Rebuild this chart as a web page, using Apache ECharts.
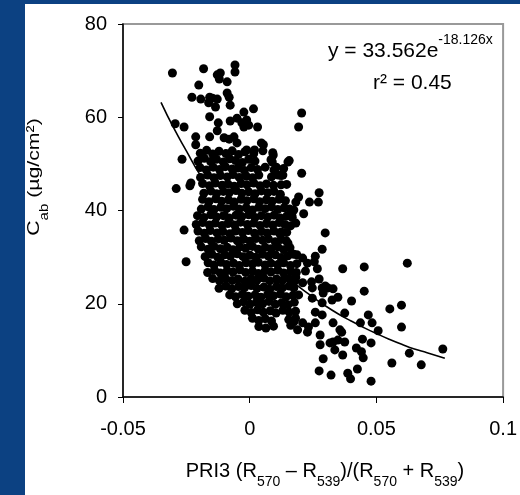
<!DOCTYPE html>
<html><head><meta charset="utf-8">
<script src="https://cdn.jsdelivr.net/npm/echarts@6/dist/echarts.min.js"></script>
<style>
html,body{margin:0;padding:0;background:#0c4182;width:520px;height:495px;overflow:hidden}
#panel{position:absolute;left:25px;top:4px;width:495px;height:491px;background:#fff}
#chart{position:absolute;left:0;top:0;width:520px;height:495px}
</style></head><body><div id="panel"></div><div id="chart"></div>
<script>
// x ticks and y ticks
const xTicks = [-0.05, 0, 0.05, 0.1];
const yTicks = [0, 20, 40, 60, 80];

// sparse points in the upper part (PRI3, Cab)
const upperPoints = [
[-0.0305,69.5],[-0.0182,70.4],[-0.0058,71.2],[-0.0058,69.7],[-0.0128,69.1],[-0.0116,69.5],[-0.0120,68.2],[-0.0089,67.6],
[-0.0201,66.9],[-0.0228,64.3],[-0.0193,63.9],[-0.0158,64.3],[-0.0147,64.1],[-0.0162,63.1],[-0.0128,63.9],[-0.0135,62.2],
[-0.0089,65.2],[-0.0081,64.3],[-0.0077,62.6],[-0.0023,61.1],[0.0015,61.8],[-0.0158,60.1],[-0.0124,58.8],[-0.0077,59.2],
[-0.0050,59.8],[-0.0031,58.8],[-0.0012,59.4],[-0.0004,58.3],[-0.0023,57.9],[0.0031,57.9],[-0.0294,58.6],[-0.0259,57.9],
[-0.0128,57.1],[-0.0213,55.8],[-0.0213,54.1],[-0.0158,55.8],[-0.0101,55.6],[-0.0081,55.3],[-0.0062,55.8],[-0.0050,54.5],
[0.0046,54.5],[0.0054,54.1],[0.0205,60.9],[0.0193,57.9],[-0.0267,51.0],[-0.0290,44.7],[-0.0232,45.9],[-0.0236,45.3],
[-0.0259,35.8],[-0.0251,29.0],[-0.0012,53.0],[0.0019,53.0],[0.0093,51.9],[0.0089,50.4],[0.0151,50.4],[0.0105,49.3],[0.0112,47.6]
];

// dense central cloud
const corePoints = [
[-0.0195,52.3],[-0.0170,52.9],[-0.0146,52.1],[-0.0121,52.7],[-0.0094,52.2],[-0.0069,52.8],[-0.0044,52.0],[-0.0019,52.6],[0.0016,52.2],[0.0052,52.8],[0.0091,52.4],
[-0.0204,50.6],[-0.0179,51.2],[-0.0154,50.5],[-0.0131,51.0],[-0.0104,50.4],[-0.0079,51.1],[-0.0056,50.7],[-0.0029,50.3],[-0.0004,51.0],[0.0021,50.6],[0.0084,50.9],[0.0156,50.7],
[-0.0196,49.2],[-0.0171,48.7],[-0.0144,49.3],[-0.0119,48.8],[-0.0096,49.4],[-0.0069,48.9],[-0.0046,49.1],[-0.0021,48.6],[0.0006,49.2],[0.0031,48.8],[0.0061,49.3],[0.0096,48.7],[0.0134,49.0],
[-0.0194,47.1],[-0.0166,47.6],[-0.0141,47.0],[-0.0116,47.5],[-0.0089,47.2],[-0.0066,47.7],[-0.0041,47.1],[-0.0014,47.4],[0.0011,47.0],[0.0036,47.6],[0.0086,47.2],[0.0124,47.5],
[-0.0186,45.8],[-0.0159,45.3],[-0.0136,45.9],[-0.0109,45.4],[-0.0086,45.7],[-0.0061,45.2],[-0.0034,45.8],[-0.0011,45.5],[0.0016,45.9],[0.0041,45.3],[0.0066,45.7],[0.0094,45.4],[0.0146,45.6],
[-0.0181,43.7],[-0.0154,44.2],[-0.0131,43.6],[-0.0104,44.1],[-0.0081,43.8],[-0.0054,44.3],[-0.0031,43.7],[-0.0004,44.0],[0.0021,43.6],[0.0046,44.2],[0.0071,43.8],[0.0096,44.1],[0.0121,43.5],
[-0.0186,42.4],[-0.0161,41.9],[-0.0134,42.5],[-0.0111,42.0],[-0.0084,42.3],[-0.0061,41.8],[-0.0034,42.4],[-0.0011,42.1],[0.0016,42.5],[0.0039,41.9],[0.0066,42.3],[0.0089,42.0],[0.0116,42.4],[0.0141,42.1],
[-0.0191,40.3],[-0.0164,40.8],[-0.0141,40.2],[-0.0114,40.7],[-0.0091,40.4],[-0.0064,40.9],[-0.0041,40.3],[-0.0014,40.6],[0.0011,40.1],[0.0036,40.7],[0.0061,40.4],[0.0086,40.8],[0.0111,40.2],[0.0136,40.6],[0.0158,40.3],
[-0.0206,38.9],[-0.0181,38.5],[-0.0154,39.1],[-0.0131,38.6],[-0.0104,38.9],[-0.0081,38.4],[-0.0054,39.0],[-0.0031,38.7],[-0.0004,39.1],[0.0021,38.5],[0.0046,38.9],[0.0071,38.6],[0.0096,39.0],[0.0121,38.4],[0.0146,38.8],[0.0168,38.5],
[-0.0211,37.0],[-0.0186,37.4],[-0.0159,36.9],[-0.0136,37.3],[-0.0109,36.8],[-0.0086,37.2],[-0.0059,36.9],[-0.0036,37.5],[-0.0009,37.0],[0.0016,37.3],[0.0041,36.8],[0.0066,37.2],[0.0091,36.9],[0.0116,37.4],[0.0139,37.0],[0.0161,36.7],
[-0.0204,35.6],[-0.0179,35.1],[-0.0156,35.7],[-0.0129,35.2],[-0.0106,35.5],[-0.0079,35.0],[-0.0056,35.6],[-0.0029,35.3],[-0.0006,35.7],[0.0019,35.1],[0.0046,35.5],[0.0069,35.2],[0.0096,35.6],[0.0119,35.0],[0.0146,35.3],
[-0.0199,33.5],[-0.0174,34.0],[-0.0151,33.4],[-0.0124,33.9],[-0.0101,33.6],[-0.0074,34.1],[-0.0049,33.5],[-0.0026,33.8],[0.0001,33.4],[0.0024,34.0],[0.0051,33.6],[0.0074,33.9],[0.0101,33.3],[0.0124,33.8],[0.0144,33.5],
[-0.0191,32.2],[-0.0164,31.7],[-0.0141,32.3],[-0.0116,31.8],[-0.0089,32.1],[-0.0066,31.6],[-0.0039,32.2],[-0.0016,31.9],[0.0011,32.3],[0.0034,31.7],[0.0061,32.1],[0.0084,31.8],[0.0111,32.2],[0.0134,31.6],[0.0159,32.0],
[-0.0176,30.1],[-0.0149,30.6],[-0.0126,30.0],[-0.0099,30.5],[-0.0076,30.2],[-0.0049,30.7],[-0.0026,30.1],[0.0001,30.4],[0.0024,30.0],[0.0051,30.6],[0.0074,30.2],[0.0101,30.5],[0.0124,29.9],[0.0151,30.3],[0.0174,30.6],
[-0.0164,28.8],[-0.0141,28.3],[-0.0114,28.9],[-0.0091,28.4],[-0.0064,28.7],[-0.0041,28.2],[-0.0014,28.8],[0.0011,28.5],[0.0034,28.9],[0.0061,28.3],[0.0084,28.7],[0.0111,28.4],[0.0134,28.8],[0.0161,28.2],[0.0186,28.6],
[-0.0166,26.7],[-0.0139,27.2],[-0.0116,26.6],[-0.0089,27.1],[-0.0066,26.8],[-0.0039,27.3],[-0.0016,26.7],[0.0011,27.0],[0.0034,26.5],[0.0061,27.1],[0.0084,26.8],[0.0111,27.2],[0.0134,26.6],[0.0161,27.0],[0.0184,26.7],
[-0.0146,25.4],[-0.0119,24.9],[-0.0096,25.5],[-0.0069,25.0],[-0.0046,25.3],[-0.0019,24.8],[0.0006,25.4],[0.0029,25.1],[0.0056,25.5],[0.0079,24.9],[0.0106,25.3],[0.0129,25.0],[0.0156,25.4],[0.0179,24.9],
[-0.0121,23.3],[-0.0094,23.8],[-0.0071,23.2],[-0.0044,23.7],[-0.0021,23.4],[0.0006,23.9],[0.0029,23.3],[0.0056,23.6],[0.0079,23.1],[0.0106,23.7],[0.0129,23.4],[0.0156,23.8],
[-0.0079,21.9],[-0.0056,21.5],[-0.0029,22.0],[-0.0006,21.6],[0.0021,21.9],[0.0044,21.4],[0.0071,22.0],[0.0094,21.7],[0.0121,22.1],[0.0144,21.5],[0.0171,21.8],
[-0.0049,20.0],[-0.0024,20.4],[0.0001,19.9],[0.0026,20.3],[0.0051,20.0],[0.0076,20.5],[0.0101,19.9],[0.0126,20.2],[0.0151,19.8],[0.0176,20.3],
[-0.0019,18.6],[0.0006,18.1],[0.0031,18.7],[0.0054,18.2],[0.0081,18.5],[0.0104,18.0],[0.0131,18.6],[0.0156,18.2],[0.0181,18.4],
[0.0011,16.9],[0.0036,16.4],[0.0061,16.8],[0.0086,16.3],[0.0154,16.6],[0.0181,16.9],
[0.0036,15.1],[0.0064,14.8],[0.0094,15.2]
];

// sparse points on the right / lower right
const lowerPoints = [
[0.0205,48.0],[0.0131,47.6],[0.0124,45.5],[0.0274,43.8],[0.0236,41.8],[0.0271,41.8],[0.0193,42.9],[0.0182,41.8],[0.0120,42.9],
[0.0174,40.1],[0.0166,39.0],[0.0213,39.3],[0.0182,37.3],[0.0124,35.4],[0.0151,33.0],[0.0298,35.2],[0.0286,31.7],[0.0259,30.2],
[0.0255,29.0],[0.0267,27.5],[0.0186,30.5],[0.0209,29.8],[0.0228,28.7],[0.0220,27.0],[0.0274,25.3],[0.0244,24.7],[0.0247,23.4],
[0.0367,27.5],[0.0452,27.9],[0.0622,28.7],[0.0329,23.2],[0.0309,23.4],[0.0290,22.3],[0.0452,22.7],[0.0402,20.6],[0.0182,25.7],
[0.0209,24.5],[0.0174,23.4],[0.0193,21.9],[0.0286,23.4],[0.0298,23.8],[0.0348,21.4],[0.0325,20.8],[0.0286,20.2],[0.0247,21.2],
[0.0259,18.2],[0.0286,17.6],[0.0259,15.9],[0.0232,15.0],[0.0209,15.9],[0.0174,16.1],[0.0162,15.4],[0.0189,14.4],[0.0228,13.9],
[0.0375,18.0],[0.0468,17.6],[0.0483,15.9],[0.0437,15.9],[0.0507,14.2],[0.0553,18.9],[0.0599,19.7],[0.0599,15.0],[0.0630,9.4],
[0.0677,6.9],[0.0561,7.3],[0.0762,10.3],[0.0445,12.4],[0.0479,11.6],[0.0421,10.5],[0.0441,9.7],[0.0448,8.4],[0.0367,9.0],
[0.0375,11.8],[0.0348,12.2],[0.0329,11.8],[0.0317,11.6],[0.0356,14.4],[0.0363,13.9],[0.0329,15.9],[0.0278,13.3],[0.0278,11.2],
[0.0336,10.1],[0.0290,8.2],[0.0274,5.6],[0.0321,4.7],[0.0387,5.1],[0.0398,3.9],[0.0425,6.0],[0.0479,3.4]
];

// trend line
const trendX = [-0.035,-0.03,-0.025,-0.02,-0.015,-0.01,-0.005,0,0.005,0.01,0.015,0.02,0.025,0.03,0.035,0.04,0.045,0.05,0.055,0.06,0.065,0.07,0.077];
const trendY = [63.2,57.7,52.8,48.0,44.0,40.2,36.7,33.6,30.7,28.0,25.6,23.4,21.4,19.5,17.8,16.3,14.9,13.6,12.4,11.3,10.3,9.5,8.3];

const FONT = 'Liberation Sans, Arial, Helvetica, sans-serif';
const chart = echarts.init(document.getElementById('chart'), null, {renderer: 'canvas'});
chart.setOption({
  animation: false,
  backgroundColor: 'transparent',
  grid: {left: 123, top: 24, width: 388, height: 373, show: true, borderColor: '#999', borderWidth: 2, backgroundColor: 'transparent'},
  xAxis: {
    type: 'value', min: xTicks[0], max: xTicks[xTicks.length-1], interval: 0.05,
    axisLine: {show: true, onZero: false, lineStyle: {color: '#000', width: 1.5}},
    axisTick: {show: true, inside: false, length: 6, lineStyle: {color: '#000', width: 1}},
    axisLabel: {color: '#000', fontSize: 20, fontFamily: FONT, margin: 22, showMinLabel: true, showMaxLabel: true},
    splitLine: {show: false}
  },
  yAxis: {
    type: 'value', min: yTicks[0], max: yTicks[yTicks.length-1], interval: 20,
    axisLine: {show: true, onZero: false, lineStyle: {color: '#000', width: 1.5}},
    axisTick: {show: true, inside: false, length: 5, lineStyle: {color: '#000', width: 1}},
    axisLabel: {color: '#000', fontSize: 20, fontFamily: FONT, margin: 16},
    splitLine: {show: false}
  },
  series: [
    {type: 'scatter', data: upperPoints.concat(corePoints, lowerPoints), symbol: 'circle', symbolSize: 9,
     itemStyle: {color: '#000', opacity: 1}, emphasis: {disabled: true}, z: 2},
    {type: 'line', data: trendX.map((x, i) => [x, trendY[i]]), showSymbol: false, smooth: true,
     lineStyle: {color: '#000', width: 1.6}, emphasis: {disabled: true}, z: 3}
  ],
  graphic: [
    {type: 'text', x: 328, y: 33, z: 10,
     style: {text: '{m|y = 33.562e}{p|-18.126x}', fill: '#000', align: 'left', verticalAlign: 'top',
       rich: {m: {fontSize: 21, fontFamily: FONT, lineHeight: 29, verticalAlign: 'bottom', fill: '#000'},
              p: {fontSize: 14, fontFamily: FONT, lineHeight: 14, verticalAlign: 'top', fill: '#000'}}}},
    {type: 'text', x: 373, y: 83, z: 10,
     style: {text: 'r² = 0.45', fill: '#000', font: '21px ' + FONT, align: 'left', verticalAlign: 'middle'}},
    {type: 'text', x: 325, y: 461, z: 10,
     style: {text: '{n|PRI3 (R}{s|570}{n| – R}{s|539}{n|)/(R}{s|570}{n| + R}{s|539}{n|)}', fill: '#000', align: 'center', verticalAlign: 'top',
       rich: {n: {fontSize: 20, fontFamily: FONT, lineHeight: 21, verticalAlign: 'top', fill: '#000'},
              s: {fontSize: 14, fontFamily: FONT, lineHeight: 28, verticalAlign: 'bottom', fill: '#000'}}}},
    {type: 'text', x: 26, y: 177, rotation: Math.PI / 2, scaleX: 1.25, z: 10,
     style: {text: '{n|C}{s|ab}{n| (µg/cm²)}', fill: '#000', align: 'center', verticalAlign: 'top',
       rich: {n: {fontSize: 17, fontFamily: FONT, lineHeight: 18, verticalAlign: 'top', fill: '#000'},
              s: {fontSize: 12, fontFamily: FONT, lineHeight: 25, verticalAlign: 'bottom', fill: '#000'}}}}
  ]
});
</script></body></html>
